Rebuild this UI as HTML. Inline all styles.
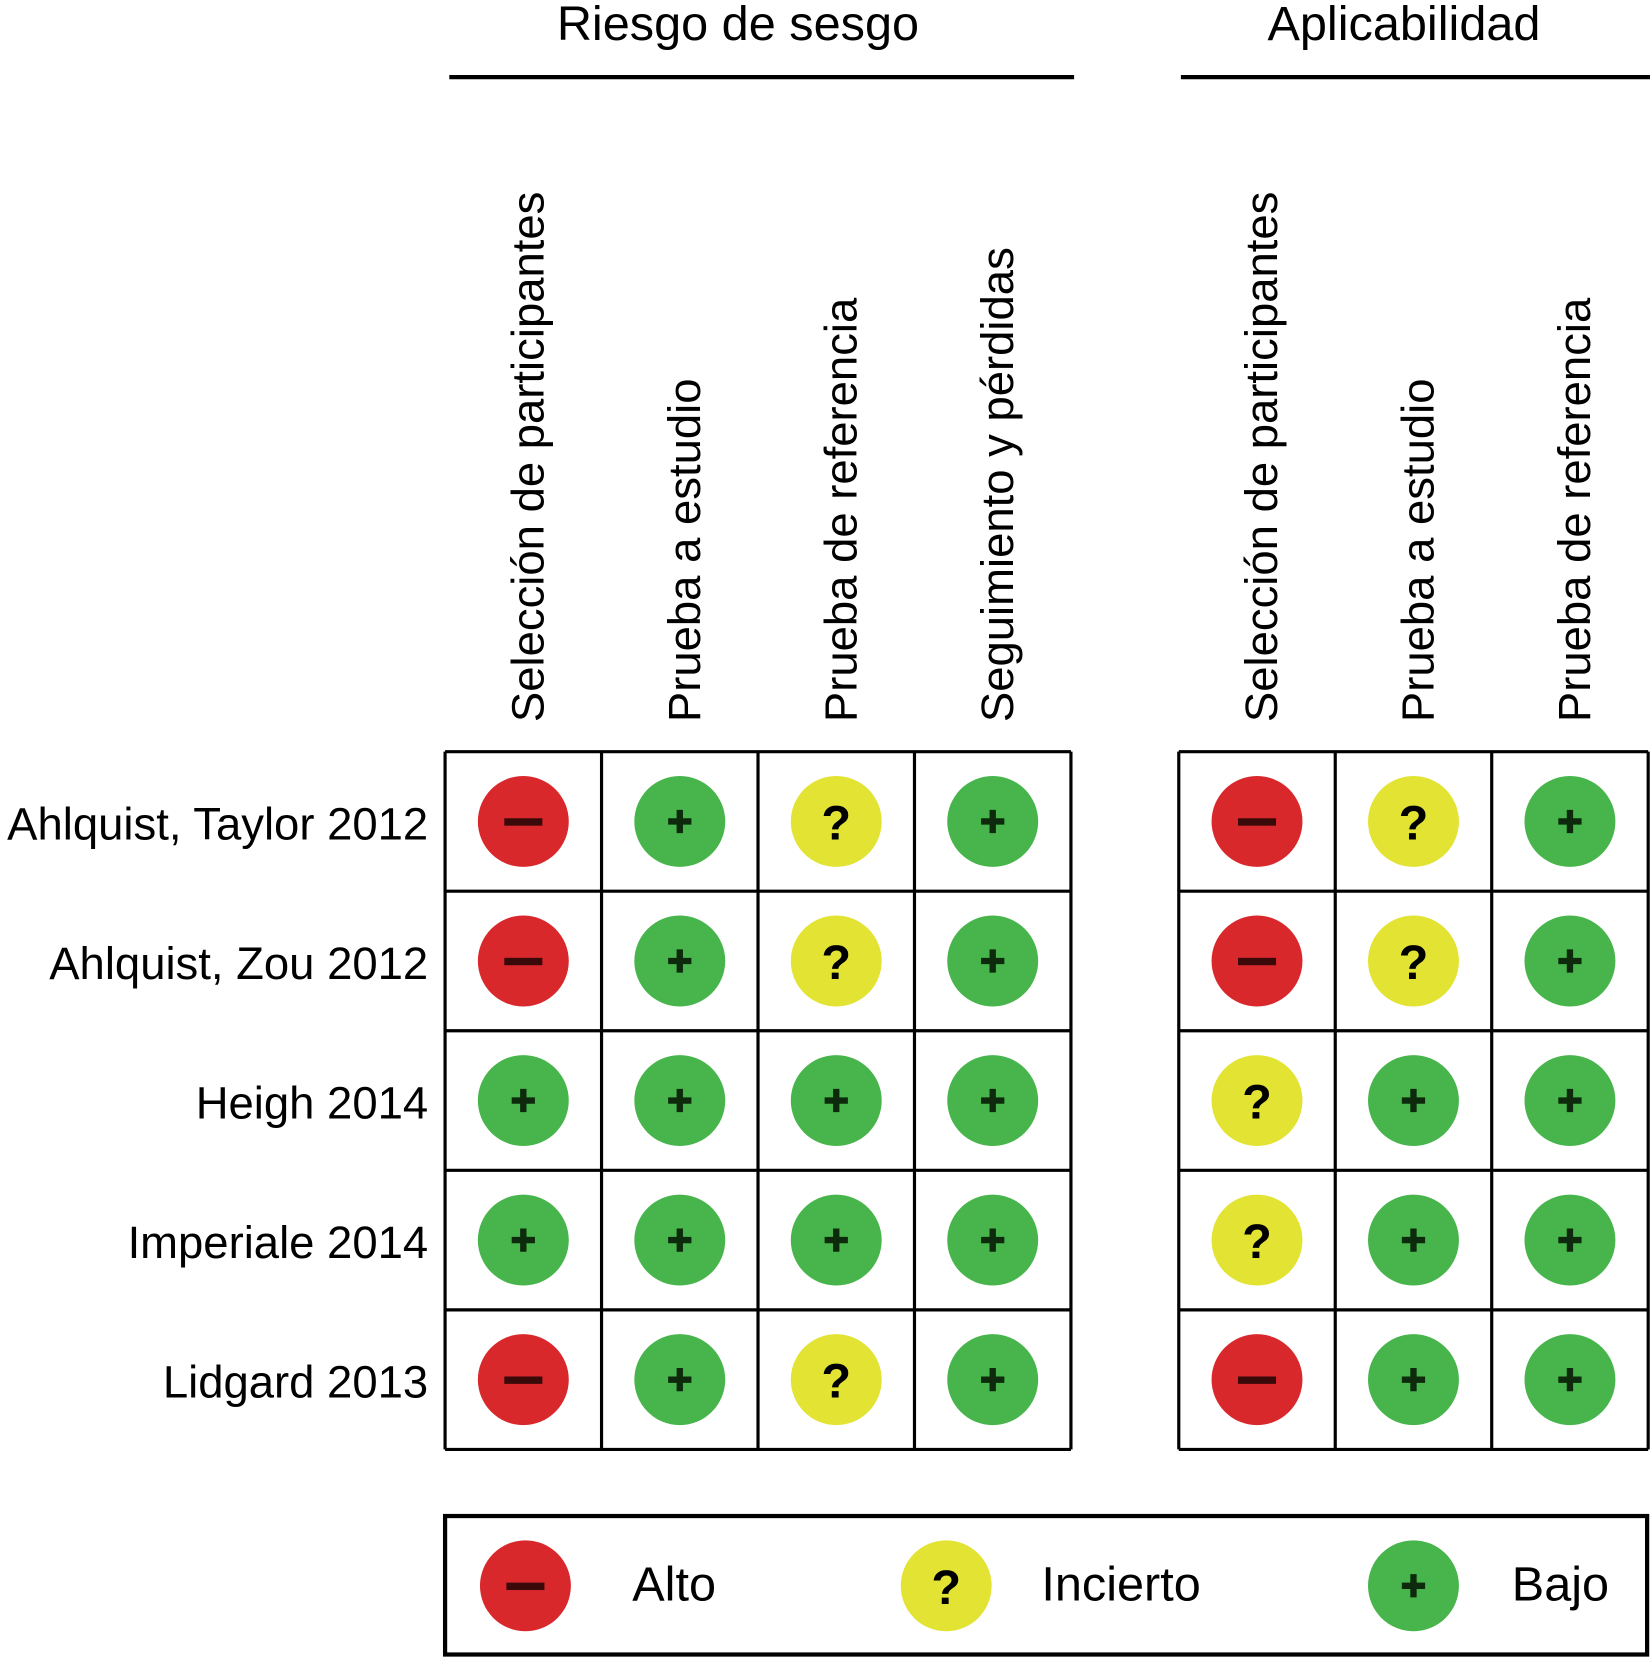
<!DOCTYPE html>
<html><head><meta charset="utf-8"><style>
body{margin:0;background:#fff;width:1650px;height:1657px;overflow:hidden}
svg text{font-family:"Liberation Sans",Arial,sans-serif;fill:#000}
</style></head><body>
<svg id="chart" width="1650" height="1657" xmlns="http://www.w3.org/2000/svg">
<g transform="scale(1.0572)">
<text x="698" y="38" font-size="46" text-anchor="middle">Riesgo de sesgo</text>
<line x1="425" y1="73" x2="1016" y2="73" stroke="#000" stroke-width="4"/>
<text x="1328" y="38" font-size="46" text-anchor="middle">Aplicabilidad</text>
<line x1="1117" y1="73" x2="1561" y2="73" stroke="#000" stroke-width="4"/>
<g id="g"></g>
</g>
</svg>
<script>
const studies=["Ahlquist, Taylor 2012","Ahlquist, Zou 2012","Heigh 2014","Imperiale 2014","Lidgard 2013"];
const biasDomains=["Selección de participantes","Prueba a estudio","Prueba de referencia","Seguimiento y pérdidas"];
const applicDomains=["Selección de participantes","Prueba a estudio","Prueba de referencia"];
// H=alto, U=incierto, L=bajo
const biasValues=[["H","L","U","L"],["H","L","U","L"],["L","L","L","L"],["L","L","L","L"],["H","L","U","L"]];
const applicValues=[["H","U","L"],["H","U","L"],["U","L","L"],["U","L","L"],["H","L","L"]];
const legendKeys=["H","U","L"];
const legendLabels=["Alto","Incierto","Bajo"];
const NS="http://www.w3.org/2000/svg";
const g=document.getElementById('g');
const colW=148,rowH=132,top0=711;
const rowY=i=>top0+i*rowH;
const col={H:"#d9282c",U:"#e2e333",L:"#47b54b"};
function mk(t,a){const e=document.createElementNS(NS,t);for(const k in a)e.setAttribute(k,a[k]);g.appendChild(e);return e;}
function symbol(k,cx,cy,name){
  const c=mk('circle',{cx:cx,cy:cy,r:43,fill:col[k]});
  
  
  if(k==="H"){const s=mk('rect',{x:cx-18,y:cy-3,width:36,height:7,fill:"#3a0a0a"});
    }
  else if(k==="L"){const s=mk('path',{d:`M${cx-11} ${cy}H${cx+11}M${cx} ${cy-11}V${cy+11}`,stroke:"#0d2a0d","stroke-width":6});
    }
  else{const s=mk('text',{x:cx,y:cy+17,"font-size":46,"font-weight":"bold","text-anchor":"middle"});s.textContent="?";
    }
}
function grid(x0,domains,values,prefix){
  const n=domains.length;
  domains.forEach((d,j)=>{const cx=x0+j*colW+colW/2+4;
    const t=mk('text',{x:0,y:0,"font-size":43,transform:`translate(${cx+15},683) rotate(-90)`});t.textContent=d;
    });
  values.forEach((r,i)=>r.forEach((v,j)=>symbol(v,x0+j*colW+colW/2,rowY(i)+66,prefix+'-cell')));
  for(let j=0;j<=n;j++){const l=mk('line',{x1:x0+j*colW,y1:top0,x2:x0+j*colW,y2:rowY(studies.length),stroke:"#000","stroke-width":3});
    }
  for(let i=0;i<=studies.length;i++){const l=mk('line',{x1:x0,y1:rowY(i),x2:x0+n*colW,y2:rowY(i),stroke:"#000","stroke-width":3});
    }
}
grid(421,biasDomains,biasValues,'bias');
grid(1115,applicDomains,applicValues,'applicability');
studies.forEach((s,i)=>{const t=mk('text',{x:405,y:rowY(i)+83,"font-size":43,"text-anchor":"end"});t.textContent=s;
  });
const lb=mk('rect',{x:421,y:1434,width:1137,height:131,fill:"none",stroke:"#000","stroke-width":4});

const lx=[497,895,1337],tx=[598,985,1430];
legendKeys.forEach((k,i)=>{symbol(k,lx[i],1500,'legend-symbol');
  const t=mk('text',{x:tx[i],y:1514,"font-size":46});t.textContent=legendLabels[i];
  });
</script>
</body></html>
